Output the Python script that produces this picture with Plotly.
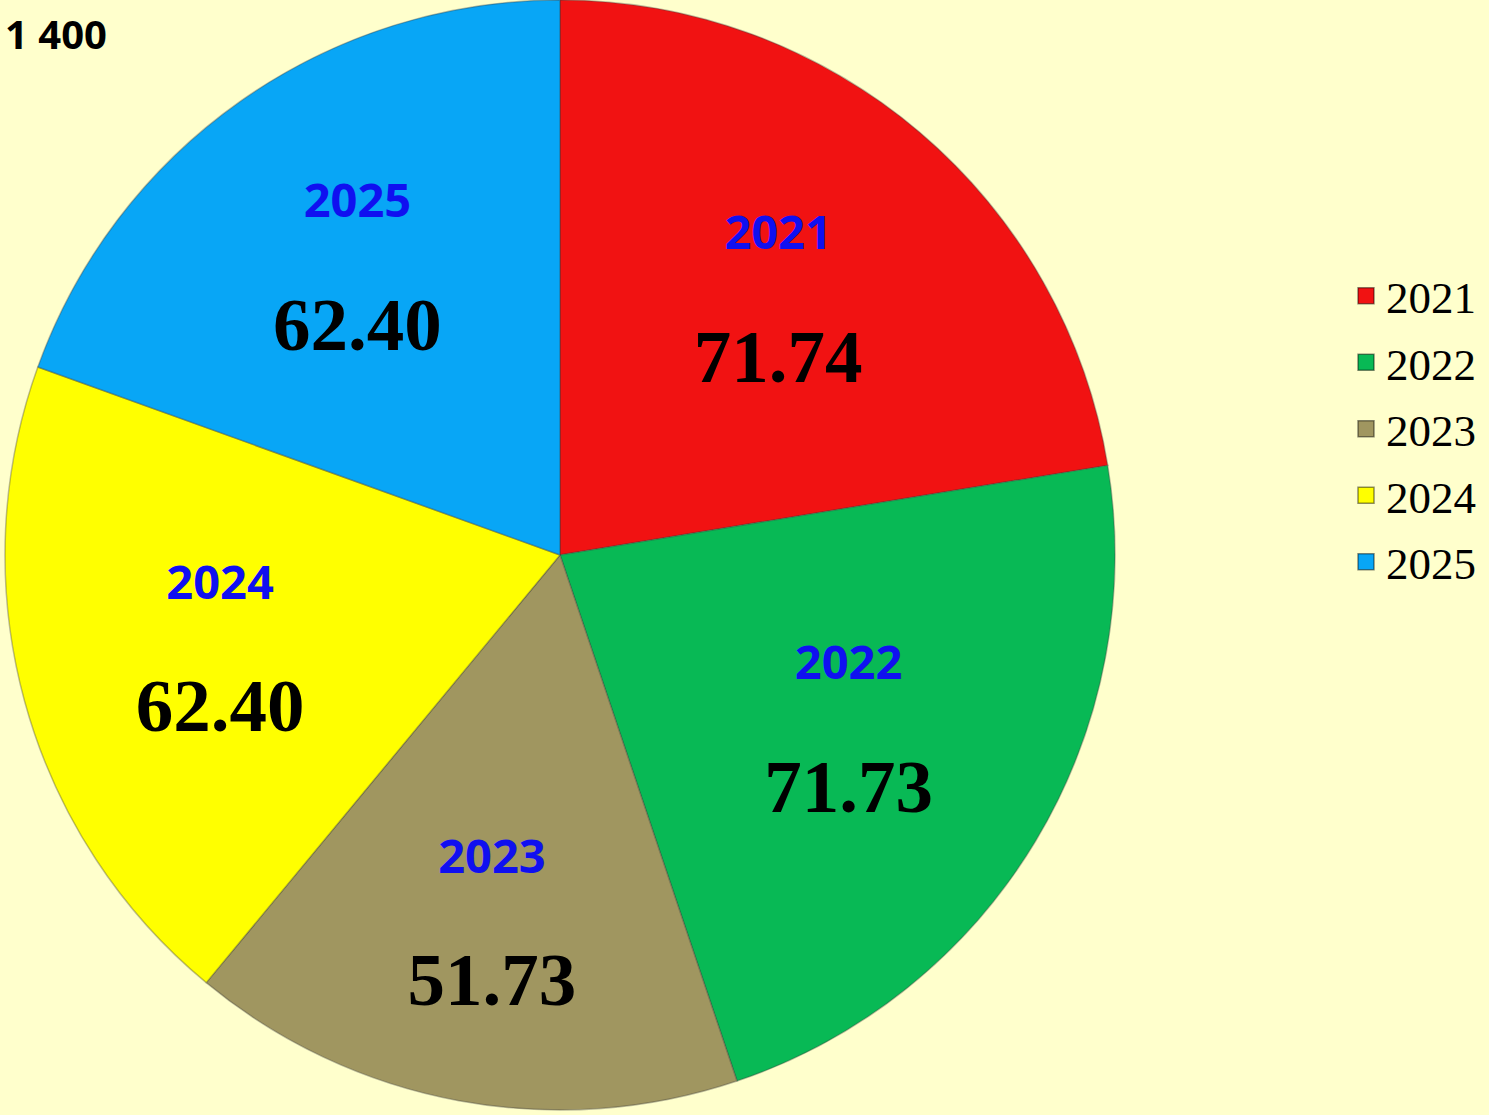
import plotly.graph_objects as go

years = ["2021", "2022", "2023", "2024", "2025"]
values = [71.74, 71.73, 51.73, 62.40, 62.40]
colors = ["#F11212", "#08B955", "#A09660", "#FFFF00", "#08A6F6"]
title_text = "1 400"

W, H = 1489, 1115
cx, cy, R = 560, 555, 555

fig = go.Figure()
fig.add_trace(go.Pie(
    labels=years,
    values=values,
    sort=False,
    direction="clockwise",
    rotation=0,
    showlegend=False,
    marker=dict(colors=colors, line=dict(color="rgba(60,60,60,0.35)", width=1.5)),
    texttemplate=("<span style='font-family:Open Sans;font-size:47px;color:#1010F0'><b>%{label}</b></span>"
                  "<br><br><span style='font-family:Liberation Serif;font-size:75px;color:black'><b>%{value:.2f}</b></span>"),
    textposition="inside",
    insidetextorientation="horizontal",
    textfont=dict(family="Liberation Serif", size=51, color="black"),
    hoverinfo="label+value",
    domain=dict(x=[(cx - R) / W, (cx + R) / W], y=[(H - cy - R) / H, (H - cy + R) / H]),
))

# legend entries (square markers like the reference)
for yr, col in zip(years, colors):
    fig.add_trace(go.Scatter(
        x=[None], y=[None], mode="markers", name=yr,
        legendgroup=yr,
        marker=dict(symbol="square", size=24, color=col,
                    line=dict(color="rgba(0,0,0,0.45)", width=1.5)),
        showlegend=True, hoverinfo="skip",
    ))

fig.add_annotation(
    text="<b>" + title_text + "</b>",
    xref="paper", yref="paper",
    x=3 / W, y=1 - 4 / H,
    xanchor="left", yanchor="top",
    showarrow=False,
    font=dict(family="Open Sans", size=40, color="black"),
)

fig.update_layout(
    width=W, height=H,
    paper_bgcolor="#FFFFCC",
    plot_bgcolor="rgba(0,0,0,0)",
    margin=dict(l=0, r=0, t=0, b=0),
    showlegend=True,
    xaxis=dict(visible=False),
    yaxis=dict(visible=False),
    legend=dict(
        x=1346 / W, y=1 - 429 / H, xanchor="left", yanchor="middle",
        font=dict(family="Liberation Serif", size=45, color="black"),
        bgcolor="rgba(0,0,0,0)",
        tracegroupgap=5,
        itemwidth=30,
    ),
)

fig.write_html("out.html",
               config={"displayModeBar": False},
               post_script="document.body.style.margin='0';document.body.style.overflow='hidden';")
